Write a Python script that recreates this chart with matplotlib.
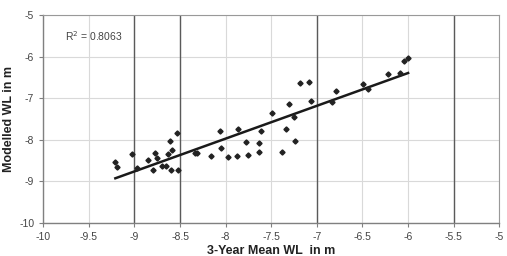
import numpy as np
import matplotlib.pyplot as plt

plt.rcParams['font.family'] = ['Liberation Sans', 'DejaVu Sans']

# observed 3-year mean WL vs modelled WL (m)
mean_wl = [-9.21, -9.19, -9.03, -8.97, -8.85, -8.80, -8.77, -8.75, -8.70, -8.65,
           -8.63, -8.61, -8.60, -8.59, -8.53, -8.52, -8.34, -8.31, -8.16, -8.06,
           -8.05, -7.97, -7.88, -7.86, -7.78, -7.76, -7.64, -7.63, -7.61, -7.49,
           -7.38, -7.34, -7.31, -7.25, -7.24, -7.18, -7.09, -7.06, -6.83, -6.79,
           -6.49, -6.44, -6.22, -6.09, -6.05, -6.00]
modelled_wl = [-8.53, -8.65, -8.35, -8.67, -8.48, -8.74, -8.32, -8.45, -8.63, -8.63,
               -8.34, -8.03, -8.73, -8.25, -7.83, -8.73, -8.33, -8.33, -8.38, -7.79,
               -8.19, -8.41, -8.40, -7.75, -8.05, -8.37, -8.29, -8.08, -7.79, -7.36,
               -8.29, -7.75, -7.14, -7.45, -8.03, -6.64, -6.61, -7.06, -7.10, -6.82,
               -6.65, -6.78, -6.42, -6.38, -6.09, -6.04]
r2_label = "R$^2$ = 0.8063"
x_ticks = np.arange(-10, -4.9, 0.5)
y_ticks = np.arange(-10, -4.9, 1)
dark_vlines = [-9, -8.5, -7, -5.5]

x = np.array(mean_wl)
y = np.array(modelled_wl)

fig = plt.figure(figsize=(5.07, 2.56), dpi=100)
ax = fig.add_axes([0.0854, 0.130, 0.8994, 0.810])

ax.set_xlim(-10, -5)
ax.set_ylim(-10, -5)
ax.set_xticks(x_ticks)
ax.set_yticks(y_ticks)
ax.set_xticklabels([f"{v:g}" for v in x_ticks])
ax.set_yticklabels([f"{v:g}" for v in y_ticks])
ax.grid(True, color='#d9d9d9', lw=0.8)
ax.set_axisbelow(True)
for xv in dark_vlines:
    ax.axvline(xv, color='#5a5a5a', lw=1.0, zorder=1)

# linear trend line over the data range
k, b = np.polyfit(x, y, 1)
xl = np.array([x.min(), x.max()])
ax.plot(xl, k * xl + b, color='#1a1a1a', lw=1.8, zorder=3)

ax.plot(x, y, 'D', color='#222222', ms=2.6, zorder=4)

ax.text(-9.76, -5.5, r2_label, fontsize=7.5, color='#444444', va='center')

for s in ['top', 'right']:
    ax.spines[s].set_color('#999999')
for s in ['left', 'bottom']:
    ax.spines[s].set_color('#808080')
    ax.spines[s].set_linewidth(1.0)
ax.tick_params(labelsize=7.5, colors='#808080', labelcolor='#444444', length=3, width=0.8)

ax.set_xlabel("3-Year Mean WL  in m", fontsize=9, fontweight='bold', color='#222222', labelpad=2)
ax.set_ylabel("Modelled WL in m", fontsize=9, fontweight='bold', color='#222222', labelpad=3)

fig.savefig("out.png", dpi=100)
